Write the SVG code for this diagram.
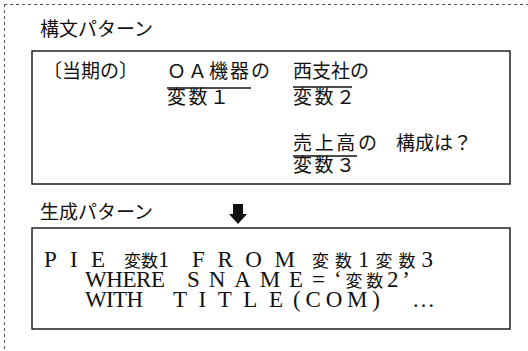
<svg xmlns="http://www.w3.org/2000/svg" width="528" height="351" viewBox="0 0 528 351">
<style>
.frame{fill:none;stroke:#555;stroke-width:1;stroke-dasharray:3 3}
.box{fill:none;stroke:#111;stroke-width:1.4}
.lbl{font-family:"Noto Sans CJK JP","Noto Sans CJK SC",sans-serif;font-size:19px;fill:#111}
.code{font-family:"Liberation Serif","Noto Sans CJK JP",serif;font-size:23px;fill:#111}
.cj{font-family:"Noto Sans CJK JP","Noto Sans CJK SC",sans-serif;font-size:17px}
.ul{stroke:#111;stroke-width:1.3}
</style>
<rect width="528" height="351" fill="#fff"/>
<g id="frame">
<line class="frame" x1="4" y1="4.5" x2="528" y2="4.5"/>
<line class="frame" x1="4.5" y1="4" x2="4.5" y2="351"/>
</g>
<g id="syntax-title"><text class="lbl" x="40" y="36">構文パターン</text></g>
<g id="syntax-box">
<rect class="box" x="32" y="51" width="478" height="133"/>
<text class="lbl" x="43" y="78">〔当期の〕</text>
<text class="lbl" x="167" y="78" textLength="103" lengthAdjust="spacing">ＯＡ機器の</text>
<line class="ul" x1="167" y1="88" x2="251" y2="88"/>
<text class="lbl" x="167" y="104" textLength="62" lengthAdjust="spacing">変数１</text>
<text class="lbl" x="293" y="78">西支社の</text>
<line class="ul" x1="293" y1="87" x2="352" y2="87"/>
<text class="lbl" x="293" y="104" textLength="62" lengthAdjust="spacing">変数２</text>
<text class="lbl" x="293" y="150" textLength="84" lengthAdjust="spacing">売上高の</text>
<line class="ul" x1="293" y1="156" x2="357" y2="156"/>
<text class="lbl" x="396" y="150">構成は？</text>
<text class="lbl" x="293" y="172" textLength="62" lengthAdjust="spacing">変数３</text>
</g>
<g id="gen-title"><text class="lbl" x="40" y="219">生成パターン</text></g>
<g id="connectors">
<path d="M233 204 H243 V214 H247 L238 224 L229 214 H233 Z" fill="#111"/>
</g>
<g id="gen-box">
<rect class="box" x="32" y="228" width="478" height="101"/>
<text class="code" x="44" y="267" textLength="61" lengthAdjust="spacing">PIE</text>
<text class="code" x="124" y="267"><tspan class="cj">変数</tspan>1</text>
<text class="code" x="192" y="267" textLength="103" lengthAdjust="spacing">FROM</text>
<text class="code" x="312" y="267" textLength="121" lengthAdjust="spacing"><tspan class="cj">変数</tspan>1<tspan class="cj">変数</tspan>3</text>
<text class="code" x="85" y="287" textLength="80" lengthAdjust="spacing">WHERE</text>
<text class="code" x="187" y="287" textLength="138" lengthAdjust="spacing">SNAME=</text>
<text class="code" x="334" y="287" textLength="76" lengthAdjust="spacing">‘<tspan class="cj">変数</tspan>2’</text>
<text class="code" x="85" y="307" textLength="58" lengthAdjust="spacing">WITH</text>
<text class="code" x="173" y="307" textLength="110" lengthAdjust="spacing">TITLE</text>
<text class="code" x="293" y="307" textLength="87" lengthAdjust="spacing">(COM)</text>
<text class="code" x="412" y="307">…</text>
</g>
</svg>
